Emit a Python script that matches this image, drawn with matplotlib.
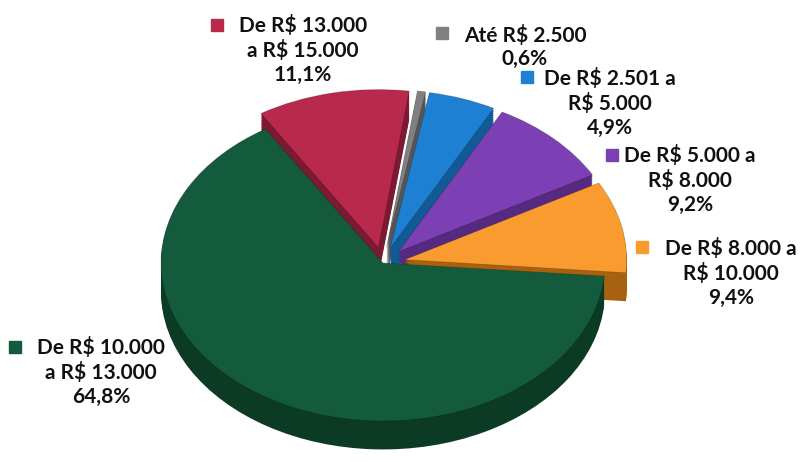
import matplotlib.pyplot as plt
import numpy as np

# faixas de renda (ordem em sentido horario a partir do topo)
faixas = ['Até R$ 2.500', 'De R$ 2.501 a\nR$ 5.000', 'De R$ 5.000 a\nR$ 8.000',
          'De R$ 8.000 a\nR$ 10.000', 'De R$ 10.000\na R$ 13.000', 'De R$ 13.000\na R$ 15.000']
percentuais = [0.6, 4.9, 9.2, 9.4, 64.8, 11.1]
rotulos_pct = ['0,6%', '4,9%', '9,2%', '9,4%', '64,8%', '11,1%']

cores_topo = ['#808080', '#1e80d2', '#7d3fb4', '#f99b2e', '#145a3c', '#b8294c']
cores_lado = ['#555555', '#125a96', '#552a80', '#a8610f', '#0b3a25', '#7c1a33']
explodir = [0.1, 0.1, 0.1, 0.1, 0.0, 0.1]

# posicao dos rotulos (pixels da imagem: centro do bloco e o marcador)
pos_texto = [(525, 47), (610, 103), (690, 180), (731, 273), (101, 372), (303, 50)]
pos_marca = [(442, 33), (527, 77), (612, 155), (642, 247), (15, 347), (217, 25)]

W, H = 803, 462
fig = plt.figure(figsize=(W / 100, H / 100), dpi=100)
ax = fig.add_axes([0, 0, 1, 1])

cx, cy = 383, 263   # centro da pizza em pixels
rx, ry = 222, 158   # raios em pixels
limx = (-cx / rx, (W - cx) / rx)
limy = (-(H - cy) / ry, cy / ry)

start = 82
profundidade = 0.18

# lateral (efeito 3D) empilhando copias escurecidas
for d in np.linspace(profundidade, 0.01, 16):
    ax.pie(percentuais, colors=cores_lado, explode=explodir, startangle=start,
           counterclock=False, center=(0, -d), radius=1.0,
           wedgeprops=dict(linewidth=0))

# topo
ax.pie(percentuais, colors=cores_topo, explode=explodir, startangle=start,
       counterclock=False, center=(0, 0), radius=1.0,
       wedgeprops=dict(linewidth=0.6, edgecolor='#00000030'))
ax.set_xlim(*limx)
ax.set_ylim(*limy)
ax.set_aspect('auto')
ax.axis('off')

for i in range(len(faixas)):
    tx, ty = pos_texto[i]
    fig.text(tx / W, 1 - ty / H, faixas[i] + '\n' + rotulos_pct[i], ha='center', va='center',
             multialignment='center', fontsize=15, fontweight='bold', family='Lato',
             linespacing=1.22, color='#111111')
    mx, my = pos_marca[i]
    ax.plot([mx / W], [1 - my / H], marker='s', markersize=9, color=cores_topo[i],
            transform=fig.transFigure, clip_on=False)

fig.savefig('out.png', dpi=100, facecolor='white')
